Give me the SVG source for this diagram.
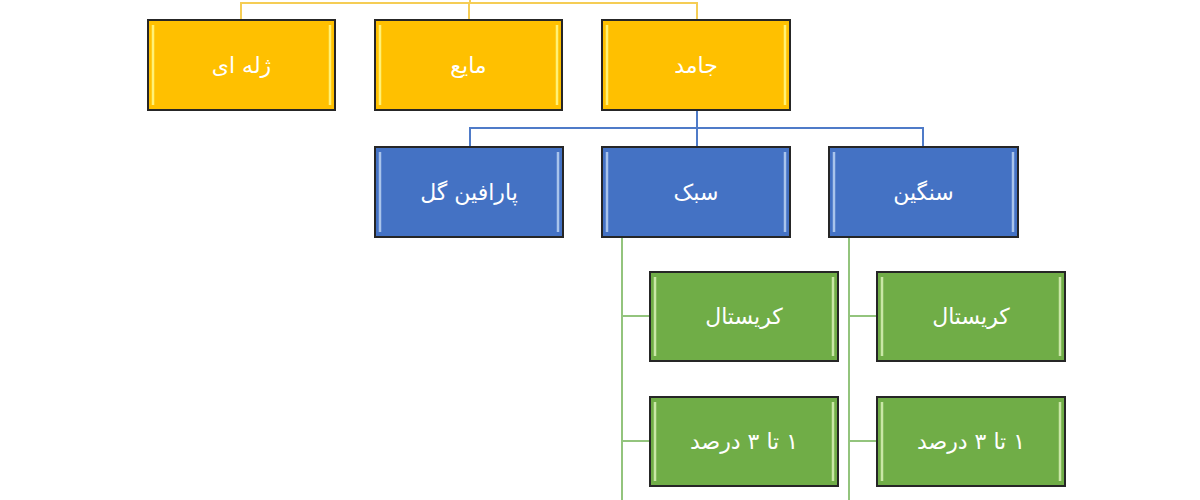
<svg xmlns="http://www.w3.org/2000/svg" width="1200" height="500" viewBox="0 0 1200 500">
<defs>
<style>
.box{stroke:#262626;stroke-width:2}
.y{fill:#FFC000}
.b{fill:#4472C4}
.g{fill:#70AD47}
.hy{fill:none;stroke:#FFF176;stroke-width:2.5}
.hb{fill:none;stroke:#A9C4EB;stroke-width:2.5}
.hg{fill:none;stroke:#C9E7A6;stroke-width:2.5}
.t{font-family:"DejaVu Sans","Noto Sans",sans-serif;font-size:22px;fill:#FFFFFF;text-anchor:middle;dominant-baseline:central}
.cy{stroke:#F5CD55;stroke-width:2;fill:none}
.cb{stroke:#4F7BC8;stroke-width:2;fill:none}
.cg{stroke:#93C47D;stroke-width:2;fill:none}
</style>
</defs>
<g id="connectors">
<path class="cy" d="M241,20 V3 H697 V20 M469,3 V20 M470,3 V0"/>
<path class="cb" d="M697,110 V128 M470,147 V128 H923 V147 M697,128 V147"/>
<path class="cg" d="M622,237 V500 M622,316 H650 M622,441 H650"/>
<path class="cg" d="M849,237 V500 M849,316 H877 M849,441 H877"/>
</g>
<g id="n-jelly">
<rect class="box y" x="148" y="20" width="187" height="90"/>
<path class="hy" d="M153,25 V105 M330,25 V105"/>
<text class="t" x="241.5" y="65" direction="rtl">ژله ای</text>
</g>
<g id="n-liquid">
<rect class="box y" x="375" y="20" width="187" height="90"/>
<path class="hy" d="M380,25 V105 M557,25 V105"/>
<text class="t" x="468.5" y="65" direction="rtl">مایع</text>
</g>
<g id="n-solid">
<rect class="box y" x="602" y="20" width="188" height="90"/>
<path class="hy" d="M607,25 V105 M785,25 V105"/>
<text class="t" x="696" y="65" direction="rtl">جامد</text>
</g>
<g id="n-paraffin">
<rect class="box b" x="375" y="147" width="188" height="90"/>
<path class="hb" d="M380,152 V232 M558,152 V232"/>
<text class="t" x="469" y="192" direction="rtl">پارافین گل</text>
</g>
<g id="n-light">
<rect class="box b" x="602" y="147" width="188" height="90"/>
<path class="hb" d="M607,152 V232 M785,152 V232"/>
<text class="t" x="696" y="192" direction="rtl">سبک</text>
</g>
<g id="n-heavy">
<rect class="box b" x="829" y="147" width="189" height="90"/>
<path class="hb" d="M834,152 V232 M1013,152 V232"/>
<text class="t" x="923.5" y="192" direction="rtl">سنگین</text>
</g>
<g id="n-light-crystal">
<rect class="box g" x="650" y="272" width="188" height="89"/>
<path class="hg" d="M655,277 V356 M833,277 V356"/>
<text class="t" x="744" y="316" direction="rtl">کریستال</text>
</g>
<g id="n-light-percent">
<rect class="box g" x="650" y="397" width="188" height="89"/>
<path class="hg" d="M655,402 V481 M833,402 V481"/>
<text class="t" x="744" y="441" direction="rtl">۱ تا ۳ درصد</text>
</g>
<g id="n-heavy-crystal">
<rect class="box g" x="877" y="272" width="188" height="89"/>
<path class="hg" d="M882,277 V356 M1060,277 V356"/>
<text class="t" x="971" y="316" direction="rtl">کریستال</text>
</g>
<g id="n-heavy-percent">
<rect class="box g" x="877" y="397" width="188" height="89"/>
<path class="hg" d="M882,402 V481 M1060,402 V481"/>
<text class="t" x="971" y="441" direction="rtl">۱ تا ۳ درصد</text>
</g>
</svg>
